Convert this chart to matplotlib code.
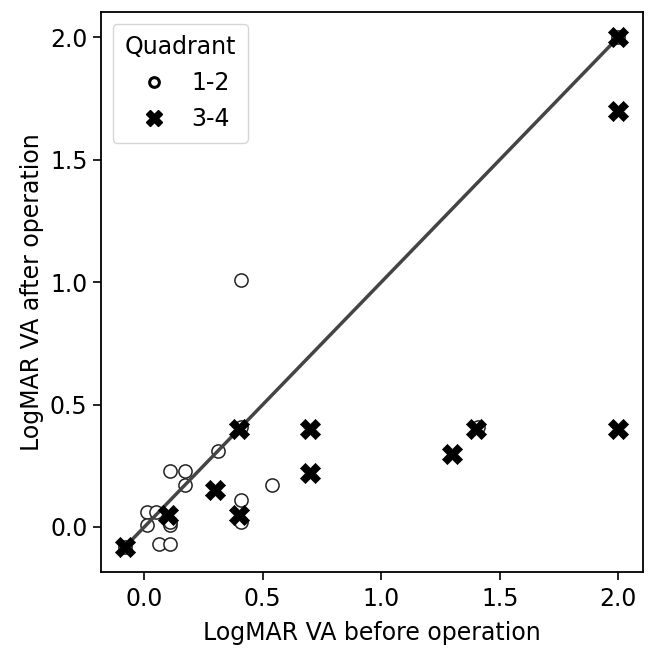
import numpy as np
import matplotlib.pyplot as plt
from matplotlib.lines import Line2D

# LogMAR values
q12_before = [0.41, 0.31, 0.11, 0.17, 0.17, 0.01, 0.01, 0.05, 0.06, 0.11, 0.11, 0.11,
              0.41, 0.41, 0.41, 0.54, 1.41, -0.08, 2.0]
q12_after = [1.01, 0.31, 0.23, 0.23, 0.17, 0.06, 0.01, 0.06, -0.07, -0.07, 0.01, 0.02,
             0.41, 0.11, 0.02, 0.17, 0.41, -0.08, 2.0]

q34_before = [-0.08, 0.1, 0.3, 0.4, 0.4, 0.7, 0.7, 1.3, 1.4, 2.0, 2.0, 2.0]
q34_after = [-0.08, 0.05, 0.15, 0.4, 0.05, 0.4, 0.22, 0.3, 0.4, 2.0, 1.7, 0.4]

diag = [-0.08, 2.0]

plt.rcParams['font.family'] = 'DejaVu Sans'
fs = 17

fig = plt.figure(figsize=(6.54, 6.59), dpi=100)
ax = fig.add_axes([0.154, 0.132, 0.829, 0.850])

ax.scatter(q12_before, q12_after, s=90, facecolor='white', edgecolor='#222222',
           linewidth=1.1, zorder=2)
ax.plot(diag, diag, color='#444444', lw=2.5, zorder=3)
ax.scatter(q34_before, q34_after, s=210, marker='X', color='black',
           edgecolor='black', linewidth=0.5, zorder=4)

ax.set_xlim(-0.184, 2.104)
ax.set_ylim(-0.184, 2.104)
ax.set_xticks([0.0, 0.5, 1.0, 1.5, 2.0])
ax.set_yticks([0.0, 0.5, 1.0, 1.5, 2.0])
ax.tick_params(length=6, width=1.2, labelsize=fs)
ax.tick_params(axis='x', pad=5)
for sp in ax.spines.values():
    sp.set_linewidth(1.3)
ax.set_xlabel("LogMAR VA before operation", fontsize=fs, labelpad=7)
ax.set_ylabel("LogMAR VA after operation", fontsize=fs)

handles = [
    Line2D([], [], ls='none', marker='o', markersize=7, markerfacecolor='white',
           markeredgecolor='black', markeredgewidth=2.2),
    Line2D([], [], ls='none', marker='X', markersize=12, color='black'),
]
ax.legend(handles, ['1-2', '3-4'], title='Quadrant', loc='upper left',
          fontsize=fs, title_fontsize=fs, handletextpad=0.6, borderpad=0.5)

fig.savefig('out.png', dpi=100)
